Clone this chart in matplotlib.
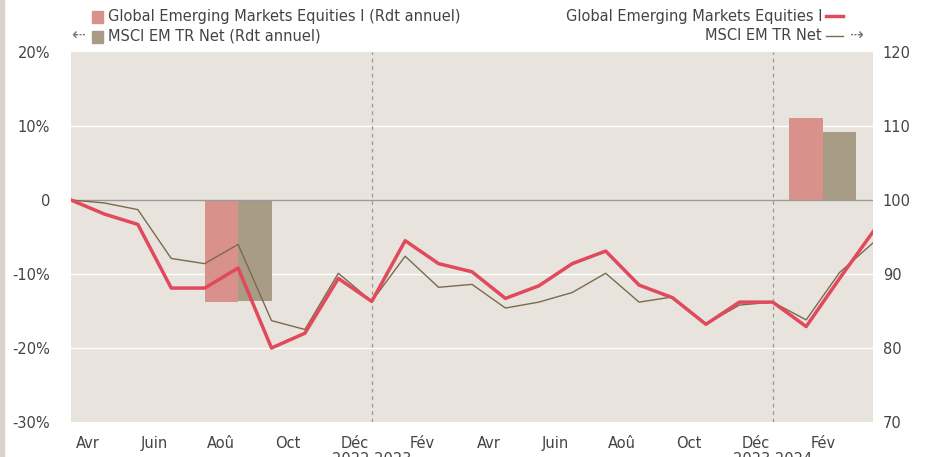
import numpy as np
import matplotlib
matplotlib.use('Agg')
import matplotlib.pyplot as plt
from matplotlib.patches import Rectangle
from matplotlib.lines import Line2D

# Indices mensuels : avril 2022 -> avril 2024
mois = ['Avr', 'Juin', 'Aoû', 'Oct', 'Déc', 'Fév', 'Avr', 'Juin', 'Aoû', 'Oct', 'Déc', 'Fév']
annees = ['2022 2023', '2023 2024']

# Base 100 (axe de droite)
fonds = [100, 98.1, 96.7, 88.1, 88.1, 90.8, 80.0, 82.0, 89.4, 86.3, 94.5, 91.4, 90.3,
         86.7, 88.4, 91.4, 93.1, 88.5, 86.8, 83.2, 86.2, 86.2, 82.9, 89.4, 95.7]
indice = [100, 99.6, 98.7, 92.1, 91.4, 94.0, 83.7, 82.5, 90.1, 86.3, 92.4, 88.2, 88.6,
          85.4, 86.2, 87.5, 90.1, 86.2, 86.9, 83.2, 85.8, 86.2, 83.8, 90.2, 94.2]

# Rendements annuels (axe de gauche, %)
rdt_fonds = [-13.8, -0.1, 11.1]
rdt_indice = [-13.6, -0.05, 9.2]
centres = [5, 15, 22.5]

ROUGE = '#e04a5c'
ROUGE_BARRE = '#d9928b'
BRUN_BARRE = '#a89c86'
BRUN = '#7b6a4e'
FOND = '#e8e3dc'
TEXTE = '#444444'

plt.rcParams['font.family'] = ['DejaVu Sans']
plt.rcParams['font.size'] = 10

fig = plt.figure(figsize=(9.25, 4.57), dpi=100)
ax = fig.add_axes([71/925, 35/457, (873-71)/925, (422-52)/457])
ax.set_facecolor(FOND)
ax2 = ax.twinx()

# barres
ax.bar(np.array(centres) - 0.5, rdt_fonds, width=1, color=ROUGE_BARRE, zorder=2)
ax.bar(np.array(centres) + 0.5, rdt_indice, width=1, color=BRUN_BARRE, zorder=2)

for g in [-20, -10, 10]:
    ax.axhline(g, color='white', lw=1, zorder=1)
ax.axhline(0, color='#9a9a9a', lw=1, zorder=3)
for xv in [9, 21]:
    ax.axvline(xv, color='#999999', lw=0.9, ls=(0, (3, 3)), zorder=1)

ax.set_ylim(-30, 20)
ax.set_xlim(0, 24)
ax.set_yticks([-30, -20, -10, 0, 10, 20])
ax.set_yticklabels(['-30%', '-20%', '-10%', '0', '10%', '20%'])

# lignes
x = np.arange(len(fonds))
ax2.plot(x, indice, color=BRUN, lw=1, zorder=4)
ax2.plot(x, fonds, color=ROUGE, lw=2.5, zorder=5)
ax2.set_ylim(70, 120)
ax2.set_yticks([70, 80, 90, 100, 110, 120])

ax.set_xticks(np.arange(0, 24, 2) + 0.5)
ax.set_xticklabels(mois)

for a in (ax, ax2):
    for s in a.spines.values():
        s.set_visible(False)
    a.tick_params(length=0, colors=TEXTE, labelsize=10.5)
ax.tick_params(axis='y', pad=15)
ax2.tick_params(axis='y', pad=7)
ax.tick_params(axis='x', pad=10)

# années sous l'axe
for xv, lab in zip([9, 21], annees):
    xf = (71 + xv * (873 - 71) / 24) / 925
    fig.text(xf, 5/457, lab, ha='center', va='top', color=TEXTE, fontsize=10.5)

# légende manuelle
def fx(px):
    return px / 925

def fy(py):
    return 1 - py / 457

fig.patches.append(Rectangle((fx(92), fy(23)), 11/925, 12/457, color=ROUGE_BARRE, transform=fig.transFigure))
fig.patches.append(Rectangle((fx(92), fy(43)), 11/925, 12/457, color=BRUN_BARRE, transform=fig.transFigure))
fig.text(fx(108), fy(16), 'Global Emerging Markets Equities I (Rdt annuel)', va='center', color=TEXTE, fontsize=10.5)
fig.text(fx(108), fy(36), 'MSCI EM TR Net (Rdt annuel)', va='center', color=TEXTE, fontsize=10.5)
fig.text(fx(71), fy(36), '⇠', va='center', color='#777777', fontsize=12)
fig.text(fx(822), fy(16), 'Global Emerging Markets Equities I', va='center', ha='right', color=TEXTE, fontsize=10.5)
fig.text(fx(822), fy(36), 'MSCI EM TR Net', va='center', ha='right', color=TEXTE, fontsize=10.5)
fig.lines.append(Line2D([fx(826), fx(843)], [fy(16), fy(16)], color=ROUGE, lw=2.5, transform=fig.transFigure))
fig.lines.append(Line2D([fx(826), fx(843)], [fy(36), fy(36)], color=BRUN, lw=1, transform=fig.transFigure))
fig.text(fx(849), fy(36), '⇢', va='center', color='#777777', fontsize=12)

# liseré gauche
fig.patches.append(Rectangle((0, 0), 4/925, 1, color='#d8d2cc', transform=fig.transFigure))

fig.savefig('out.png', dpi=100)
